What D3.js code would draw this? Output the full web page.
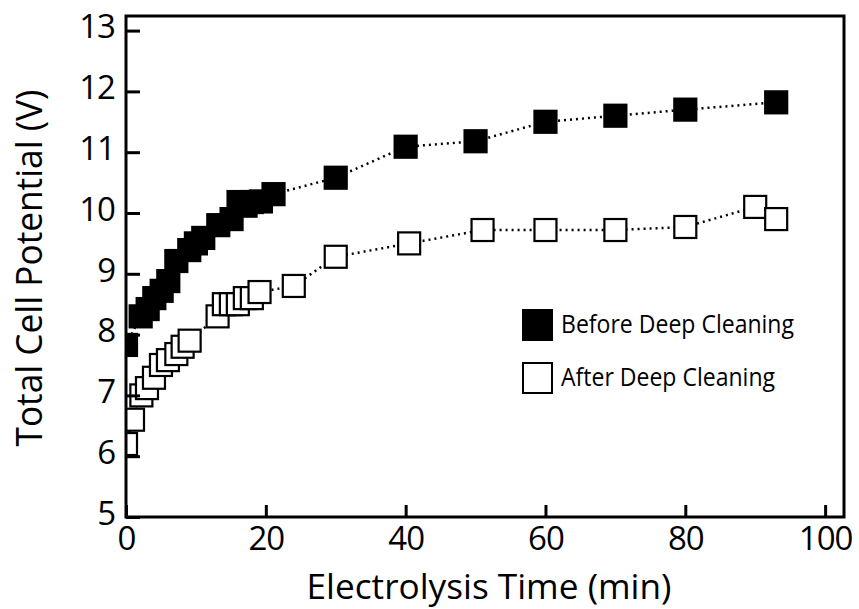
<!DOCTYPE html>
<html>
<head>
<meta charset="utf-8">
<script src="https://cdn.jsdelivr.net/npm/d3@7"></script>
<style>
  body { margin: 0; background: #fff; }
  svg { display: block; }
</style>
</head>
<body>
<svg width="859" height="609"></svg>
<script>
// series
const beforeTime = [0, 2.1, 3.1, 4.05, 5.1, 6.05, 7.2, 9.05, 10, 11.05, 13.2, 15.1, 16.1, 17.1, 18, 19.3, 21.1, 30, 40, 50, 60, 70, 80, 93];
const beforeVolt = [7.83, 8.3, 8.42, 8.6, 8.72, 8.88, 9.21, 9.39, 9.5, 9.59, 9.8, 9.9, 10.18, 10.12, 10.18, 10.19, 10.31, 10.58, 11.09, 11.18, 11.5, 11.6, 11.7, 11.82];

const afterTime = [0, 1, 2.2, 3, 4, 5, 6, 7.2, 8.1, 9.1, 13.1, 14, 15, 16, 17, 18, 19.1, 24, 30, 40.5, 51, 60, 70, 80, 90, 93];
const afterVolt = [6.2, 6.6, 7.0, 7.12, 7.29, 7.5, 7.58, 7.68, 7.8, 7.9, 8.3, 8.5, 8.5, 8.5, 8.6, 8.6, 8.7, 8.8, 9.28, 9.5, 9.72, 9.72, 9.72, 9.77, 10.1, 9.9];

const xTicks = [0, 20, 40, 60, 80, 100];
const yTicks = [5, 6, 7, 8, 9, 10, 11, 12, 13];
const seriesNames = ["Before Deep Cleaning", "After Deep Cleaning"];

const plotL = 126, plotR = 844, plotT = 16, plotB = 517;
const font = "'Open Sans', sans-serif";
const boxSize = 22;

const x = d3.scaleLinear().domain([0, 102.7]).range([plotL, plotR]);
const y = d3.scaleLinear().domain([5, 13.24]).range([plotB, plotT]);

const svg = d3.select("svg");

svg.append("clipPath").attr("id", "plot")
    .append("rect")
    .attr("x", plotL).attr("y", plotT)
    .attr("width", plotR - plotL).attr("height", plotB - plotT);

const series = [
    {name: seriesNames[0], pts: d3.zip(beforeTime, beforeVolt), fill: "#000"},
    {name: seriesNames[1], pts: d3.zip(afterTime, afterVolt), fill: "#fff"}
];

const plot = svg.append("g").attr("clip-path", "url(#plot)");

const line = d3.line().x(d => x(d[0])).y(d => y(d[1]));

series.forEach(s => {
    plot.append("path")
        .attr("d", line(s.pts))
        .attr("fill", "none")
        .attr("stroke", "#000")
        .attr("stroke-width", 2.5)
        .attr("stroke-dasharray", "2,4");
});

series.forEach(s => {
    plot.append("g")
        .selectAll("rect")
        .data(s.pts)
        .join("rect")
        .attr("x", d => x(d[0]) - boxSize / 2)
        .attr("y", d => y(d[1]) - boxSize / 2)
        .attr("width", boxSize)
        .attr("height", boxSize)
        .attr("fill", s.fill)
        .attr("stroke", "#000")
        .attr("stroke-width", 2.2);
});

// axes with inward ticks
const yAxis = svg.append("g")
    .attr("transform", `translate(${plotL},0)`)
    .call(d3.axisLeft(y).tickValues(yTicks).tickSizeInner(-14).tickSizeOuter(0).tickPadding(11));

const xAxis = svg.append("g")
    .attr("transform", `translate(0,${plotB})`)
    .call(d3.axisBottom(x).tickValues(xTicks).tickSizeInner(-12).tickSizeOuter(0).tickPadding(10));

[xAxis, yAxis].forEach(a => {
    a.select(".domain").remove();
    a.selectAll("line").attr("stroke", "#000").attr("stroke-width", 3);
    a.selectAll("text")
        .attr("font-family", font)
        .attr("font-size", 33)
        .attr("letter-spacing", -1)
        .attr("fill", "#000");
});
yAxis.selectAll("text").attr("dy", "0.22em");

// frame
svg.append("rect")
    .attr("x", plotL).attr("y", plotT)
    .attr("width", plotR - plotL).attr("height", plotB - plotT)
    .attr("fill", "none")
    .attr("stroke", "#000")
    .attr("stroke-width", 3);

// axis titles
svg.append("text")
    .attr("x", 489).attr("y", 599)
    .attr("text-anchor", "middle")
    .attr("font-family", font)
    .attr("font-size", 35)
    .attr("textLength", 365)
    .attr("lengthAdjust", "spacingAndGlyphs")
    .text("Electrolysis Time (min)");

svg.append("text")
    .attr("transform", "translate(42,268) rotate(-90)")
    .attr("text-anchor", "middle")
    .attr("font-family", font)
    .attr("font-size", 36)
    .attr("textLength", 357)
    .attr("lengthAdjust", "spacingAndGlyphs")
    .text("Total Cell Potential (V)");

// legend
const legend = svg.append("g");
const legendRows = [
    {y: 325, fill: "#000", len: 233},
    {y: 378, fill: "#fff", len: 214}
];
legendRows.forEach((r, i) => {
    legend.append("rect")
        .attr("x", 523).attr("y", r.y - 15)
        .attr("width", 29).attr("height", 30)
        .attr("fill", r.fill)
        .attr("stroke", "#000")
        .attr("stroke-width", 2);
    legend.append("text")
        .attr("x", 561).attr("y", r.y + 8)
        .attr("font-family", font)
        .attr("font-size", 25)
        .attr("textLength", r.len)
        .attr("lengthAdjust", "spacingAndGlyphs")
        .text(series[i].name);
});
</script>
</body>
</html>
